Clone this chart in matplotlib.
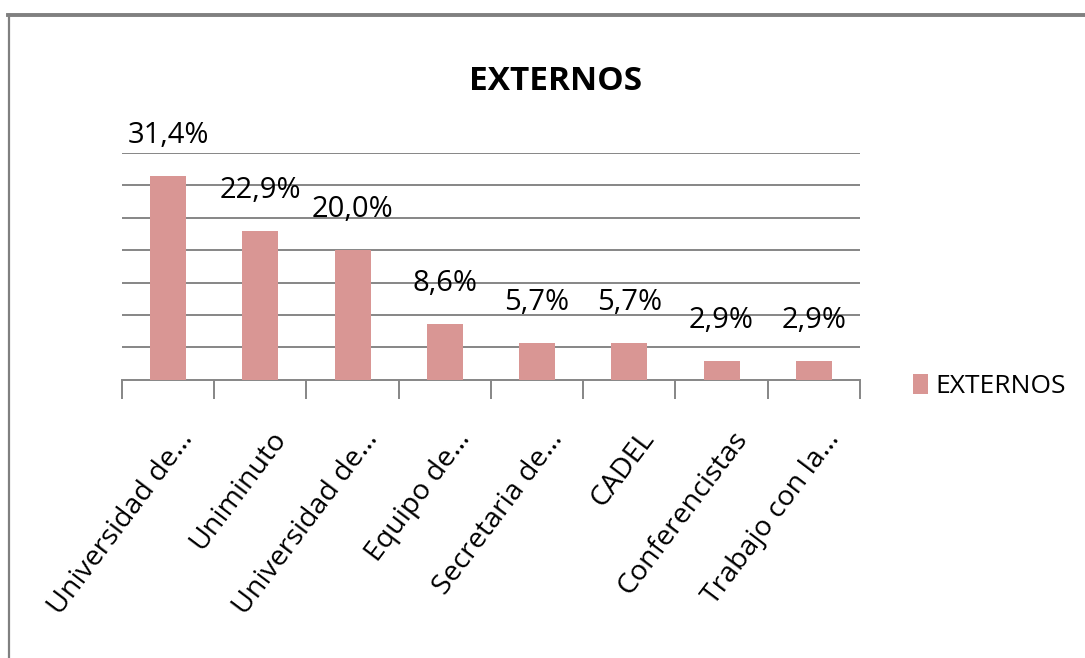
import numpy as np
import matplotlib
matplotlib.use("Agg")
import matplotlib.pyplot as plt
from matplotlib.lines import Line2D

categorias = ["Universidad de…", "Uniminuto", "Universidad de…", "Equipo de…",
              "Secretaria de…", "CADEL", "Conferencistas", "Trabajo con la…"]
valores = [31.4, 22.9, 20.0, 8.6, 5.7, 5.7, 2.9, 2.9]
etiquetas = ["31,4%", "22,9%", "20,0%", "8,6%", "5,7%", "5,7%", "2,9%", "2,9%"]
serie = "EXTERNOS"

color_barra = "#D99694"
color_grid = "#868686"
fuente = ["Open Sans", "DejaVu Sans"]

fig = plt.figure(figsize=(10.85, 6.58), dpi=100)
ax = fig.add_axes([0.1124, 0.4225, 0.6802, 0.3457])

x = np.arange(len(valores))
barras = ax.bar(x, valores, width=0.39, color=color_barra, label=serie, zorder=3)

ax.set_xlim(-0.5, len(valores) - 0.5)
ax.set_ylim(0, 35)
ax.set_yticks(np.arange(5, 36, 5))
ax.yaxis.grid(True, color=color_grid, linewidth=1.4, zorder=0)
ax.tick_params(axis="y", left=False, labelleft=False)

# ticks entre categorias, etiquetas en el centro
ax.set_xticks(np.arange(len(valores) + 1) - 0.5)
ax.set_xticklabels([])
ax.tick_params(axis="x", which="major", length=14, color=color_grid, width=1.4)
ax.set_xticks(x + 0.22, minor=True)
ax.set_xticklabels(categorias, minor=True, rotation=53, ha="right", va="center",
                   rotation_mode="anchor", fontsize=20.5, family=fuente)
ax.tick_params(axis="x", which="minor", length=0, pad=39)

for s in ["top", "right", "left"]:
    ax.spines[s].set_visible(False)
ax.spines["bottom"].set_color(color_grid)
ax.spines["bottom"].set_linewidth(1.4)

for b, lab in zip(barras, etiquetas):
    ax.annotate(lab, (b.get_x() + b.get_width() / 2, b.get_height()),
                xytext=(0, 19), textcoords="offset points", ha="center", va="bottom",
                fontsize=21, family=fuente, zorder=4)

fig.text(0.512, 0.876, "EXTERNOS", ha="center", va="center", fontsize=24,
         fontweight="bold", family=fuente)

leg = fig.legend(handles=[barras], labels=[serie], loc="center left",
                 bbox_to_anchor=(0.829, 0.413), frameon=False, handlelength=0.6,
                 handleheight=0.8, handletextpad=0.25, borderpad=0,
                 prop={"family": fuente, "size": 19})

# marco del grafico
fig.add_artist(Line2D([0.007, 1.0], [0.977, 0.977], color="#808080", linewidth=2.8,
                      transform=fig.transFigure))
fig.add_artist(Line2D([0.008, 0.008], [0.0, 0.977], color="#808080", linewidth=1.6,
                      transform=fig.transFigure))

fig.savefig("out.png", dpi=100, facecolor="white")
